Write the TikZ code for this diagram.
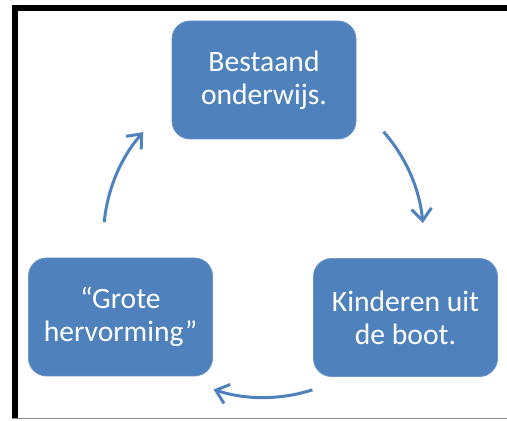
\documentclass[tikz,border=0pt]{standalone}
\usepackage{fontspec}
\setmainfont{Carlito}
\usetikzlibrary{arrows.meta}
\definecolor{officeblue}{HTML}{4F81BD}
\tikzset{
  cyclebox/.style={draw=officeblue!85!white, line width=0.6pt, fill=officeblue, rounded corners=13.5pt,
    minimum width=138pt, minimum height=88.5pt, inner sep=0pt, align=center,
    text=white, font=\fontsize{22.2pt}{24.75pt}\selectfont},
  cyclearrow/.style={draw=officeblue, line width=2.25pt,
    -{Straight Barb[length=9pt,width=15pt,line width=2.25pt]}},
  framethick/.style={draw=black, line width=4.5pt},
  framethin/.style={draw=black!45, line width=1pt}
}
\begin{document}
\begin{tikzpicture}[x=0.75pt,y=0.75pt]
\useasboundingbox (0,0) rectangle (507,421);
% frame
\coordinate (ftl) at (12,413);
\coordinate (ftr) at (507,413);
\coordinate (fbl) at (12,2.5);
\coordinate (fbr) at (507,2.5);
\draw[framethick] (ftr) -- (ftl);
\draw[framethick] (14.5,416) -- (14.5,2);
\draw[framethin] (fbl) -- (fbr);
% boxes
\node[cyclebox] (top) at (264,341) {Bestaand\\onderwijs.};
\node[cyclebox] (right) at (405.5,103.5) {Kinderen uit\\de boot.};
\node[cyclebox] (left) at (120.5,104) {“Grote\\hervorming”};
% arrows
\coordinate (c) at (263.5,183.5);
\coordinate (a1) at ([shift={(41.4:120pt)}]c);
\coordinate (a2) at ([shift={(-72.2:120pt)}]c);
\coordinate (a3) at ([shift={(174.5:120pt)}]c);
\draw[cyclearrow] (a1) arc[start angle=41.4, end angle=5.2, radius=120pt];
\draw[cyclearrow] (a2) arc[start angle=-72.2, end angle=-108.2, radius=120pt];
\draw[cyclearrow] (a3) arc[start angle=174.5, end angle=138.8, radius=120pt];
\end{tikzpicture}
\end{document}
